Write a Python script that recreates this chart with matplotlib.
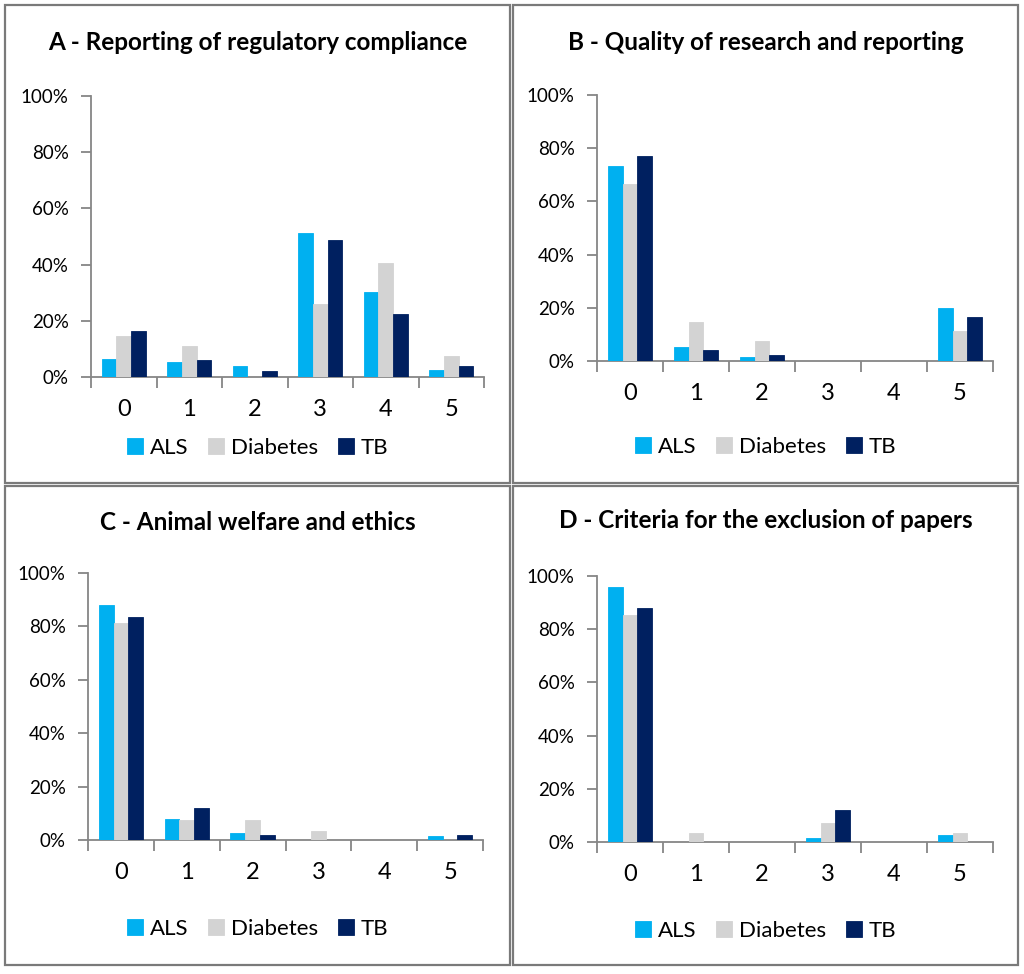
import matplotlib
matplotlib.use('Agg')
import matplotlib.pyplot as plt
from matplotlib.patches import Rectangle
from matplotlib.ticker import FixedLocator, FuncFormatter
import numpy as np

# ---------------- data ----------------
categories = ['0', '1', '2', '3', '4', '5']
series_names = ['ALS', 'Diabetes', 'TB']
series_colors = ['#00B0F0', '#D3D3D3', '#002060']

titles = ['A - Reporting of regulatory compliance',
          'B - Quality of research and reporting',
          'C - Animal welfare and ethics',
          'D - Criteria for the exclusion of papers']

# values in percent
a_als      = [6.5, 5.3, 3.8, 51.1, 30.1, 2.5]
a_diabetes = [14.6, 11.0, 0.0, 26.1, 40.6, 7.4]
a_tb       = [16.3, 6.2, 2.0, 48.8, 22.3, 4.0]

b_als      = [73.4, 5.3, 1.5, 0.0, 0.0, 19.8]
b_diabetes = [66.5, 14.7, 7.4, 0.0, 0.0, 11.3]
b_tb       = [77.2, 4.0, 2.3, 0.0, 0.0, 16.4]

c_als      = [88.1, 7.8, 2.6, 0.0, 0.0, 1.4]
c_diabetes = [81.4, 7.4, 7.4, 3.5, 0.0, 0.0]
c_tb       = [83.4, 12.0, 1.8, 0.0, 0.0, 1.8]

d_als      = [95.9, 0.0, 0.0, 1.4, 0.0, 2.6]
d_diabetes = [85.3, 3.5, 0.0, 7.3, 0.0, 3.5]
d_tb       = [87.8, 0.0, 0.0, 12.0, 0.0, 0.0]

panel_data = [(a_als, a_diabetes, a_tb),
              (b_als, b_diabetes, b_tb),
              (c_als, c_diabetes, c_tb),
              (d_als, d_diabetes, d_tb)]

yticks = [0, 20, 40, 60, 80, 100]

# ---------------- layout (pixel coords) ----------------
W, H = 1024, 974
FONT = 'Lato'
plt.rcParams['font.family'] = [FONT, 'DejaVu Sans']

fig = plt.figure(figsize=(W / 100, H / 100), dpi=100)
fig.patch.set_facecolor('white')

# (axes_left, axes_right, y_zero, y_100, title_y, legend_y, box)
layouts = [
    (91, 484, 377, 96, 42, 448, (5, 5, 510, 483)),
    (597, 993, 361, 95, 42, 447, (513, 5, 1018, 483)),
    (88, 483, 840, 573, 523, 929, (5, 486, 510, 965)),
    (597, 993, 842, 576, 521, 931, (513, 486, 1018, 965)),
]

def fx(x):
    return x / W

def fy(y):
    return 1 - y / H

axis_gray = '#868686'
bar_w = 0.224
offsets = [-bar_w, 0.0, bar_w]
x = np.arange(len(categories))

for i, (data, lay) in enumerate(zip(panel_data, layouts)):
    l, r, y0, y100, ty, ly, box = lay
    bx0, by0, bx1, by1 = box
    # panel frame
    fig.patches.append(Rectangle((fx(bx0), fy(by1)), fx(bx1) - fx(bx0), fy(by0) - fy(by1),
                                 transform=fig.transFigure, fill=False,
                                 edgecolor='#7A7A7A', linewidth=1.6, zorder=0))
    ax = fig.add_axes([fx(l), fy(y0), fx(r) - fx(l), fy(y100) - fy(y0)])
    handles = []
    for vals, name, col, off in zip(data, series_names, series_colors, offsets):
        h = ax.bar(x + off, vals, width=bar_w, color=col, label=name,
                   edgecolor=col, linewidth=0.6, zorder=3)
        handles.append(h)
    ax.set_xlim(-0.5, len(categories) - 0.5)
    ax.set_ylim(0, 100)
    ax.set_facecolor('none')
    for s in ['top', 'right']:
        ax.spines[s].set_visible(False)
    for s in ['left', 'bottom']:
        ax.spines[s].set_color(axis_gray)
        ax.spines[s].set_linewidth(1.3)
    ax.set_xticks(x)
    ax.set_xticklabels(categories)
    ax.xaxis.set_minor_locator(FixedLocator(np.arange(-0.5, len(categories), 1.0)))
    ax.tick_params(axis='x', which='major', length=0, pad=16, labelsize=17,
                   labelcolor='#000000')
    ax.tick_params(axis='x', which='minor', length=8, width=1.3, color=axis_gray,
                   direction='out')
    ax.set_yticks(yticks)
    ax.yaxis.set_major_formatter(FuncFormatter(lambda v, p: f'{int(v)}%'))
    ax.tick_params(axis='y', length=7, width=1.3, color=axis_gray, direction='out',
                   pad=9, labelsize=13.5, labelcolor='#000000')
    # title
    fig.text(fx((bx0 + bx1) / 2), fy(ty), titles[i], ha='center', va='center',
             fontsize=17.5, fontweight='bold', color='#000000')
    # legend
    fig.legend(handles=handles, labels=series_names,
               loc='center', bbox_to_anchor=(fx((bx0 + bx1) / 2), fy(ly)),
               bbox_transform=fig.transFigure, ncol=3, frameon=False,
               fontsize=16, handlelength=0.72, handleheight=0.72,
               handletextpad=0.3, columnspacing=0.9, borderaxespad=0)

fig.savefig('out.png', dpi=100, facecolor='white')
